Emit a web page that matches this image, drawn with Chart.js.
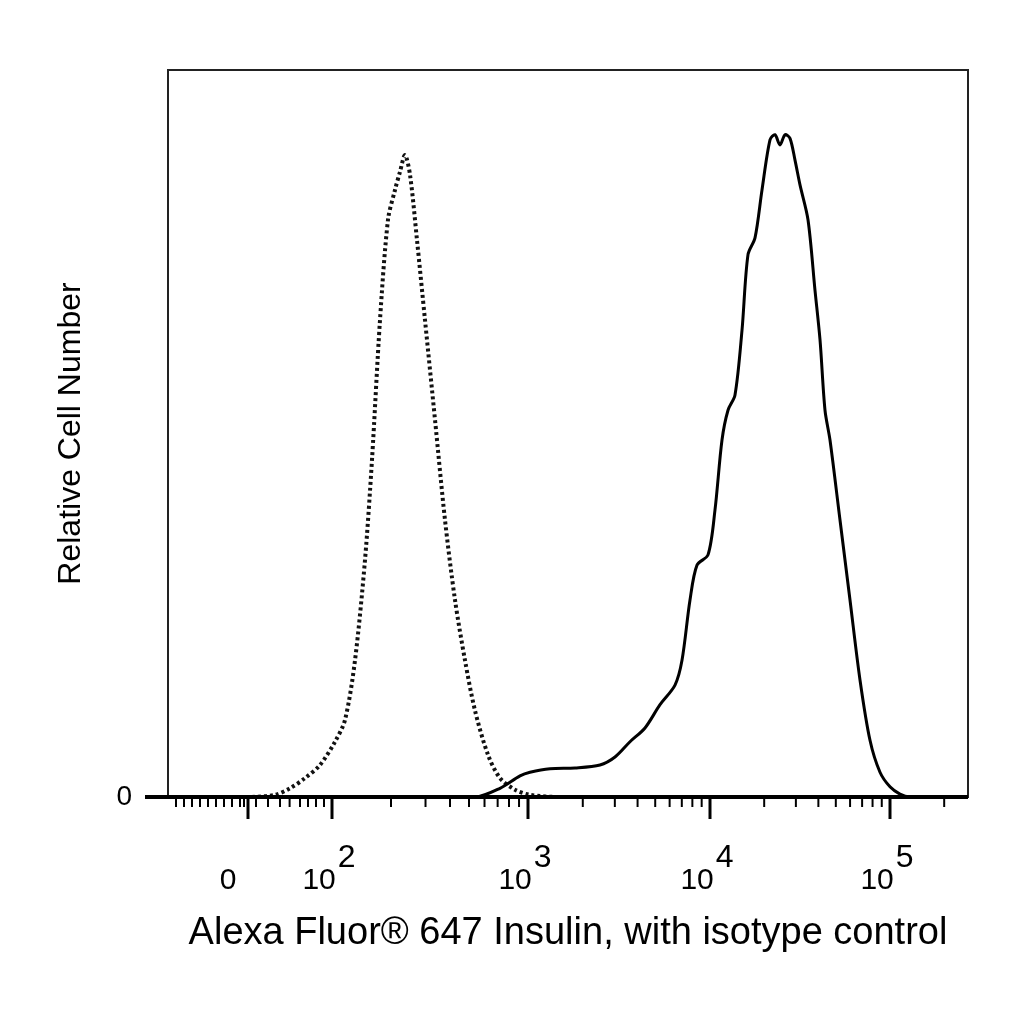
<!DOCTYPE html>
<html><head><meta charset="utf-8">
<script src="https://cdn.jsdelivr.net/npm/chart.js@4"></script>
<style>html,body{margin:0;padding:0;background:#fff}#c{width:1024px;height:1024px;display:block}</style>
</head><body><canvas id="c" width="1024" height="1024"></canvas>
<script>
const insulinX=[0,383.75,415,440,452.5,477.5,508.75,540,558.75,577.5,596.25,615,633.75,642.5,652.5,661.25,675,683.75,692.5,700,708.75,717.5,725,733.75,742.5,752.5,758.75,765,771.25,777.5,783.75,790,800,808.75,815,821.25,827.5,840,852.5,865,877.5,890,902.5,915,927.5,1000];
const insulinY=[0,0,1.2,2.9,3.4,3.9,4.0,4.4,5.5,7.6,9.5,12.7,15.4,18.8,27.1,31.9,33.3,39.5,49.1,53.2,55.3,64.2,74.6,76.9,83.5,90.4,91.1,89.7,91.1,90.6,87.6,84.2,79.4,69.7,62.9,53.2,49.1,38.1,27.1,16.1,7.8,3.4,1.4,0.4,0,0];
const isotypeX=[0,102.5,133.75,152.5,171.25,190,208.75,221.25,233.75,246.25,255,265,275,283.75,290,296.25,302.5,311.25,321.25,333.75,346.25,358.75,371.25,383.75,400,415,433.75,452.5,490,1000];
const isotypeY=[0,0,0.3,1.2,2.6,4.4,7.6,10.6,18.8,32.6,46.4,65.6,79.4,83.5,86.0,88.3,85.6,76.6,65.6,51.9,38.1,27.1,18.8,11.9,5.8,2.6,1.0,0.3,0,0];
const majorTickPos=[100,205,450,677.5,902.5];
const tickBase=['0','10','10','10','10'];
const tickExp=['','2','3','4','5'];
const xTitle='Alexa Fluor® 647 Insulin, with isotype control';
const yTitle='Relative Cell Number';

const minorTicks=[];
[10,20,30,40,50,60,70,80,90,95,110,125,140,152,165,175,185,195].forEach(v=>minorTicks.push(v));
for(let k=2;k<10;k++){minorTicks.push(205+245*Math.log10(k));minorTicks.push(450+227.5*Math.log10(k));minorTicks.push(677.5+225*Math.log10(k));}
minorTicks.push(902.5+225*Math.log10(2),902.5+225*Math.log10(3),902.5+225*Math.log10(4));

const font="'Liberation Sans',Arial,sans-serif";
const deco={id:'deco',afterDraw(ch){
  const c=ch.ctx,a=ch.chartArea,xs=ch.scales.x;
  c.save();
  c.strokeStyle='#222';c.lineWidth=2;
  c.strokeRect(a.left,a.top,a.right-a.left,a.bottom-a.top);
  c.lineWidth=4;c.strokeStyle='#000';
  c.beginPath();c.moveTo(145,a.bottom);c.lineTo(a.right,a.bottom);c.stroke();
  c.lineWidth=2;
  minorTicks.forEach(v=>{if(v<0||v>1000)return;const p=xs.getPixelForValue(v);c.beginPath();c.moveTo(p,a.bottom);c.lineTo(p,a.bottom+10);c.stroke();});
  c.lineWidth=3;
  c.fillStyle='#000';c.textBaseline='alphabetic';
  majorTickPos.forEach((v,i)=>{const p=xs.getPixelForValue(v);c.beginPath();c.moveTo(p,a.bottom);c.lineTo(p,a.bottom+22);c.stroke();
    c.font='30px '+font;
    const bw=c.measureText(tickBase[i]).width;
    c.font='32px '+font;
    const ew=tickExp[i]?c.measureText(tickExp[i]).width:0;
    const x0=p-(bw+ew)/2-(tickExp[i]?4:0)-(i===0?20:0);
    c.font='30px '+font;c.textAlign='left';c.fillText(tickBase[i],x0,a.bottom+92);
    if(tickExp[i]){c.font='32px '+font;c.fillText(tickExp[i],x0+bw+2,a.bottom+70);}
  });
  c.restore();
}};
new Chart(document.getElementById('c'),{
  type:'line',
  data:{datasets:[
    {label:'Insulin',data:insulinX.map((x,i)=>({x,y:insulinY[i]})),borderColor:'#000',borderWidth:3,pointRadius:0,tension:0.3,fill:false},
    {label:'Isotype',data:isotypeX.map((x,i)=>({x,y:isotypeY[i]})),borderColor:'#111',borderWidth:4,borderDash:[3,3],pointRadius:0,tension:0.3,fill:false}
  ]},
  options:{responsive:false,animation:false,devicePixelRatio:1,
    layout:{padding:{left:0,top:70,right:56,bottom:0}},
    plugins:{legend:{display:false},tooltip:{enabled:false}},
    scales:{
      x:{type:'linear',min:0,max:1000,
        afterBuildTicks:s=>{s.ticks=majorTickPos.map(v=>({value:v}));},
        afterFit:s=>{s.height=227;},
        grid:{drawOnChartArea:false,drawTicks:false},border:{display:false},
        ticks:{display:false},
        title:{display:true,text:xTitle,color:'#000',font:{family:font,size:38},padding:{top:10,bottom:68}}},
      y:{min:0,max:100,
        afterBuildTicks:s=>{s.ticks=[{value:0}];},
        afterFit:s=>{s.width=168;},
        grid:{drawOnChartArea:false,drawTicks:false},border:{display:false},
        ticks:{padding:36,color:'#000',font:{family:font,size:28},callback:()=> '0'},
        title:{display:true,text:yTitle,color:'#000',font:{family:font,size:32},padding:{top:52,bottom:0}}}
    }},
  plugins:[deco]
});
</script></body></html>
